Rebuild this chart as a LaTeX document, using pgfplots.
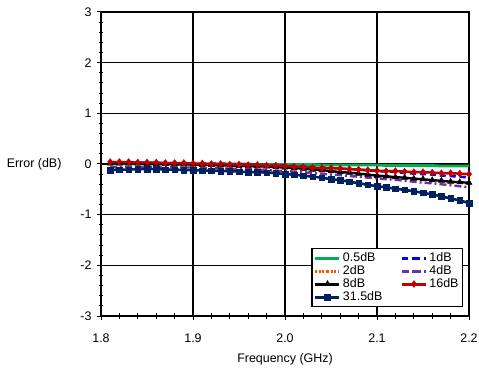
\documentclass[border=0pt]{standalone}
\usepackage{pgfplots}
\pgfplotsset{compat=1.18}
\usepackage{pgfplotstable}
\usepackage{fontspec}
\setmainfont{Liberation Sans}
\definecolor{cgreen}{RGB}{0,176,80}
\definecolor{cblue}{RGB}{0,0,255}
\definecolor{corange}{RGB}{255,80,0}
\definecolor{cpurple}{RGB}{112,48,160}
\definecolor{cred}{RGB}{192,0,0}
\definecolor{cnavy}{RGB}{0,32,96}
\pgfplotstableread{
x a05 a1 a2 a4 a8 a16 a315
1.81 0.00 0.03 0.04 -0.06 0.01 0.04 -0.12
1.82 0.00 0.03 0.04 -0.06 0.01 0.04 -0.11
1.83 0.00 0.03 0.03 -0.06 0.01 0.04 -0.11
1.84 0.00 0.03 0.03 -0.06 0.01 0.03 -0.10
1.85 0.00 0.03 0.03 -0.06 0.00 0.03 -0.10
1.86 0.00 0.02 0.02 -0.06 0.00 0.03 -0.10
1.87 0.00 0.02 0.02 -0.06 0.00 0.02 -0.11
1.88 0.00 0.02 0.02 -0.07 -0.01 0.02 -0.11
1.89 0.00 0.02 0.01 -0.07 -0.01 0.02 -0.12
1.90 0.00 0.02 0.01 -0.07 -0.01 0.01 -0.12
1.91 0.00 0.01 0.01 -0.08 -0.02 0.01 -0.13
1.92 0.00 0.01 0.00 -0.08 -0.02 0.00 -0.13
1.93 0.00 0.01 0.00 -0.09 -0.03 0.00 -0.14
1.94 0.00 0.00 -0.01 -0.09 -0.03 -0.01 -0.14
1.95 0.00 0.00 -0.01 -0.10 -0.04 -0.01 -0.15
1.96 0.00 -0.01 -0.02 -0.10 -0.04 -0.02 -0.16
1.97 -0.01 -0.01 -0.02 -0.11 -0.05 -0.02 -0.16
1.98 -0.01 -0.02 -0.03 -0.12 -0.05 -0.03 -0.17
1.99 -0.01 -0.02 -0.03 -0.13 -0.06 -0.03 -0.18
2.00 -0.01 -0.03 -0.04 -0.14 -0.07 -0.04 -0.20
2.01 -0.01 -0.04 -0.05 -0.15 -0.08 -0.05 -0.21
2.02 -0.01 -0.05 -0.06 -0.16 -0.09 -0.06 -0.23
2.03 -0.01 -0.06 -0.07 -0.18 -0.11 -0.07 -0.25
2.04 -0.02 -0.07 -0.07 -0.19 -0.12 -0.08 -0.27
2.05 -0.02 -0.08 -0.08 -0.21 -0.14 -0.08 -0.30
2.06 -0.02 -0.09 -0.09 -0.22 -0.16 -0.09 -0.32
2.07 -0.02 -0.10 -0.10 -0.24 -0.17 -0.10 -0.35
2.08 -0.02 -0.11 -0.11 -0.25 -0.19 -0.11 -0.38
2.09 -0.02 -0.13 -0.12 -0.27 -0.21 -0.12 -0.41
2.10 -0.02 -0.14 -0.13 -0.28 -0.23 -0.13 -0.44
2.11 -0.03 -0.15 -0.14 -0.30 -0.24 -0.14 -0.46
2.12 -0.03 -0.16 -0.14 -0.31 -0.26 -0.14 -0.49
2.13 -0.03 -0.18 -0.15 -0.33 -0.27 -0.15 -0.51
2.14 -0.03 -0.19 -0.16 -0.35 -0.29 -0.16 -0.54
2.15 -0.03 -0.20 -0.17 -0.37 -0.30 -0.16 -0.57
2.16 -0.03 -0.21 -0.17 -0.38 -0.32 -0.17 -0.60
2.17 -0.04 -0.23 -0.18 -0.40 -0.33 -0.18 -0.64
2.18 -0.04 -0.24 -0.19 -0.42 -0.35 -0.18 -0.68
2.19 -0.04 -0.25 -0.20 -0.44 -0.36 -0.19 -0.72
2.20 -0.04 -0.27 -0.21 -0.46 -0.37 -0.20 -0.77
}\datatable
\begin{document}
\begin{tikzpicture}
\useasboundingbox (0,0) rectangle (479bp,369bp);
\begin{axis}[
  at={(101bp,53bp)}, anchor=south west,
  scale only axis, width=368bp, height=304bp,
  xmin=1.8, xmax=2.2, ymin=-3, ymax=3,
  xtick={1.8,1.9,2.0,2.1,2.2},
  xticklabels={1.8,1.9,2.0,2.1,2.2},
  ytick={-3,-2,-1,0,1,2,3},
  yticklabels={-3,-2,-1,0,1,2,3},
  minor x tick num=4, minor y tick num=4,
  xtick pos=bottom, ytick pos=left,
  tick align=center,
  major tick length=8bp, minor tick length=5bp,
  tick style={black, line width=1bp},
  grid=major,
  major grid style={black, line width=1.3bp},
  axis line style={black, line width=1.4bp},
  ticklabel style={font=\fontsize{12.5}{14}\selectfont},
  xticklabel style={yshift=-10bp},
  yticklabel style={xshift=-2bp},
  xlabel={Frequency (GHz)},
  xlabel style={font=\fontsize{12.5}{14}\selectfont, at={(axis description cs:0.5,-0.143)}, anchor=center},
  ylabel={Error (dB)},
  ylabel style={font=\fontsize{12.5}{14}\selectfont, rotate=-90, at={(axis description cs:-0.098,0.5)}, anchor=east},
  legend columns=2,
  legend cell align=left,
  legend style={at={(axis description cs:0.984,0.030)}, anchor=south east,
    draw=black, line width=1.2bp, font=\fontsize{12.5}{13}\selectfont,
    inner sep=2bp, row sep=-1.5bp,
    /tikz/every even column/.append style={column sep=16bp}},
  legend image code/.code={\draw[#1, line width=3bp] (0bp,0bp) -- (12bp,0bp) plot coordinates {(12bp,0bp)} -- (24bp,0bp);},
]
\addplot[cgreen, line width=2.8bp] table[x=x,y=a05]{\datatable};
\addlegendentry{0.5dB}
\addplot[cblue, line width=2.4bp, dash pattern=on 6bp off 4bp] table[x=x,y=a1]{\datatable};
\addlegendentry{1dB}
\addplot[corange, line width=2.2bp, dash pattern=on 1.8bp off 1.6bp] table[x=x,y=a2]{\datatable};
\addlegendentry{2dB}
\addplot[cpurple, line width=2.4bp, dash pattern=on 7bp off 3bp on 2bp off 3bp] table[x=x,y=a4]{\datatable};
\addlegendentry{4dB}
\addplot[black, line width=2.4bp, mark=triangle*, mark size=3.4bp, mark options={solid, line width=0.5bp}] table[x=x,y=a8]{\datatable};
\addlegendentry{8dB}
\addplot[cred, line width=2.4bp, mark=diamond*, mark size=3.4bp, mark options={solid, line width=0.5bp}] table[x=x,y=a16]{\datatable};
\addlegendentry{16dB}
\addplot[cnavy, line width=2.6bp, mark=square*, mark size=2.8bp, mark options={solid, line width=0.5bp}] table[x=x,y=a315]{\datatable};
\addlegendentry{31.5dB}
\end{axis}
\end{tikzpicture}
\end{document}
